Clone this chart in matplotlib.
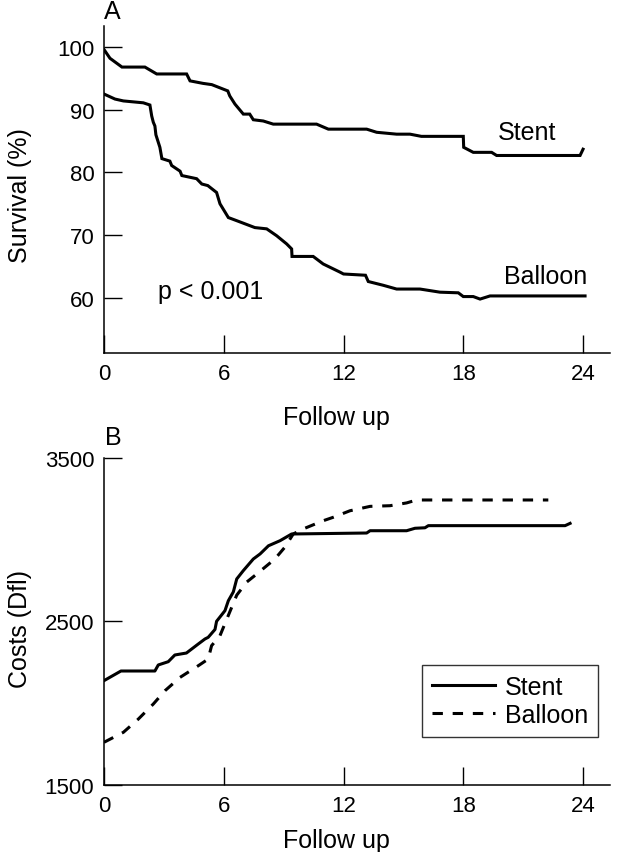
import numpy as np
import matplotlib
matplotlib.use('Agg')
import matplotlib.pyplot as plt

plt.rcParams['font.family'] = ['Liberation Sans', 'DejaVu Sans']

# panel A: survival (%) against follow up (months)
stent_surv_months = [0, 0.3, 0.9, 2.05, 2.64, 4.14, 4.31, 4.96, 5.4, 6.2, 6.3, 6.56, 6.98, 7.3,
                     7.48, 7.98, 8.48, 10.65, 11.24, 13.16, 13.66, 14.66, 15.33, 15.9, 18.0,
                     18.02, 18.5, 19.42, 19.67, 23.85, 24.0]
stent_surv = [99.6, 98.2, 96.8, 96.8, 95.7, 95.7, 94.6, 94.2, 94.0, 93.0, 92.2, 90.9, 89.3, 89.3,
              88.4, 88.2, 87.7, 87.7, 86.9, 86.9, 86.4, 86.1, 86.1, 85.75, 85.75,
              84.0, 83.2, 83.2, 82.7, 82.7, 83.7]

balloon_surv_months = [0, 0.55, 0.97, 1.97, 2.3, 2.39, 2.47, 2.55, 2.6, 2.8, 2.9, 3.3, 3.39, 3.81,
                       3.9, 4.64, 4.9, 5.2, 5.64, 5.81, 6.23, 6.65, 7.56, 8.15, 8.65, 9.15, 9.4,
                       9.42, 10.48, 10.98, 11.82, 12.0, 13.1, 13.24, 13.99, 14.66, 15.83, 16.83,
                       17.75, 18.0, 18.5, 18.84, 19.34, 24.1]
balloon_surv = [92.5, 91.7, 91.4, 91.1, 90.75, 89.0, 88.0, 87.4, 86.0, 84.0, 82.2, 81.8, 81.1, 80.2,
                79.5, 79.0, 78.15, 77.9, 76.8, 75.0, 72.8, 72.3, 71.2, 71.0, 69.9, 68.6, 67.8,
                66.6, 66.6, 65.4, 64.1, 63.8, 63.6, 62.6, 62.0, 61.4, 61.4, 60.9,
                60.8, 60.2, 60.2, 59.8, 60.3, 60.3]

# panel B: costs (Dfl) against follow up (months)
stent_cost_months = [0, 0.85, 2.55, 2.72, 3.22, 3.55, 4.13, 4.72, 5.06, 5.22, 5.56, 5.64, 6.06,
                     6.23, 6.48, 6.65, 6.98, 7.48, 7.82, 8.24, 8.82, 9.4, 13.16, 13.33, 15.16,
                     15.58, 16.08, 16.25, 23.1, 23.35]
stent_cost = [2137, 2196, 2196, 2233, 2253, 2294, 2306, 2361, 2392, 2402, 2450, 2500, 2565,
              2626, 2680, 2759, 2810, 2881, 2912, 2962, 2993, 3034, 3040, 3054, 3054,
              3069, 3072, 3085, 3085, 3099]

balloon_cost_months = [0, 0.97, 1.72, 2.47, 3.06, 3.81, 4.72, 5.22, 5.39, 5.81, 6.31, 6.65, 6.9,
                       7.15, 7.65, 8.56, 9.06, 9.48, 9.98, 10.98, 11.48, 12.32, 13.33, 14.33,
                       15.16, 15.66, 22.26]
balloon_cost = [1760, 1821, 1902, 1994, 2076, 2157, 2228, 2269, 2351, 2412, 2560, 2660, 2700,
                2740, 2789, 2881, 2953, 3034, 3065, 3115, 3136, 3176, 3203, 3207,
                3224, 3242, 3242]

month_ticks = [0, 6, 12, 18, 24]
surv_ticks = [60, 70, 80, 90, 100]
cost_ticks = [1500, 2500, 3500]

W, H = 619, 853
fig = plt.figure(figsize=(W / 100, H / 100), dpi=100)

ax_a = fig.add_axes([104 / W, 1 - 354 / H, 506 / W, 327 / H])
ax_b = fig.add_axes([104 / W, 1 - 785.8 / H, 506 / W, 327 / H])

lw = 2.2
dash = (0, (3.4, 3.2))

ax_a.plot(stent_surv_months, stent_surv, color='black', lw=lw, solid_joinstyle='miter')
ax_a.plot(balloon_surv_months, balloon_surv, color='black', lw=lw, solid_joinstyle='miter')
ax_a.set_xlim(0, 25.35)
ax_a.set_ylim(51.2, 103.35)
ax_a.set_yticks(surv_ticks)
ax_a.text(21.2, 86.4, 'Stent', fontsize=18, ha='center', va='center')
ax_a.text(22.1, 63.5, 'Balloon', fontsize=18, ha='center', va='center')
ax_a.text(2.7, 61.1, 'p < 0.001', fontsize=18, ha='left', va='center')

ax_b.plot(stent_cost_months, stent_cost, color='black', lw=lw, label='Stent')
ax_b.plot(balloon_cost_months, balloon_cost, color='black', lw=lw, linestyle=dash, label='Balloon')
ax_b.set_xlim(0, 25.35)
ax_b.set_ylim(1500, 3500)
ax_b.set_yticks(cost_ticks)
leg = ax_b.legend(loc='upper right', bbox_to_anchor=(0.976, 0.366), borderaxespad=0,
                  fontsize=18, frameon=True, fancybox=False, edgecolor='black',
                  handlelength=2.5, handletextpad=0.4, labelspacing=0.15, borderpad=0.4)
leg.get_frame().set_linewidth(1.0)

for ax, ylab, ly in [(ax_a, 'Survival (%)', 0.486), (ax_b, 'Costs (Dfl)', 0.48)]:
    ax.set_xticks(month_ticks)
    for s in ['top', 'right']:
        ax.spines[s].set_visible(False)
    for s in ['left', 'bottom']:
        ax.spines[s].set_linewidth(1.1)
    ax.tick_params(direction='in', length=13, width=1.0, labelsize=16, pad=7)
    ax.tick_params(axis='x', pad=7)
    ax.set_xlabel('Follow up', fontsize=18, va='center')
    ax.set_ylabel(ylab, fontsize=18, va='center')
    ax.yaxis.set_label_coords(-0.166, ly)

ax_a.xaxis.set_label_coords(0.46, -0.196)
ax_b.xaxis.set_label_coords(0.46, -0.168)

fig.text(112 / W, 1 - 12 / H, 'A', fontsize=18, ha='center', va='center')
fig.text(113 / W, 1 - 438 / H, 'B', fontsize=18, ha='center', va='center')

fig.savefig('out.png', dpi=100, facecolor='white')
